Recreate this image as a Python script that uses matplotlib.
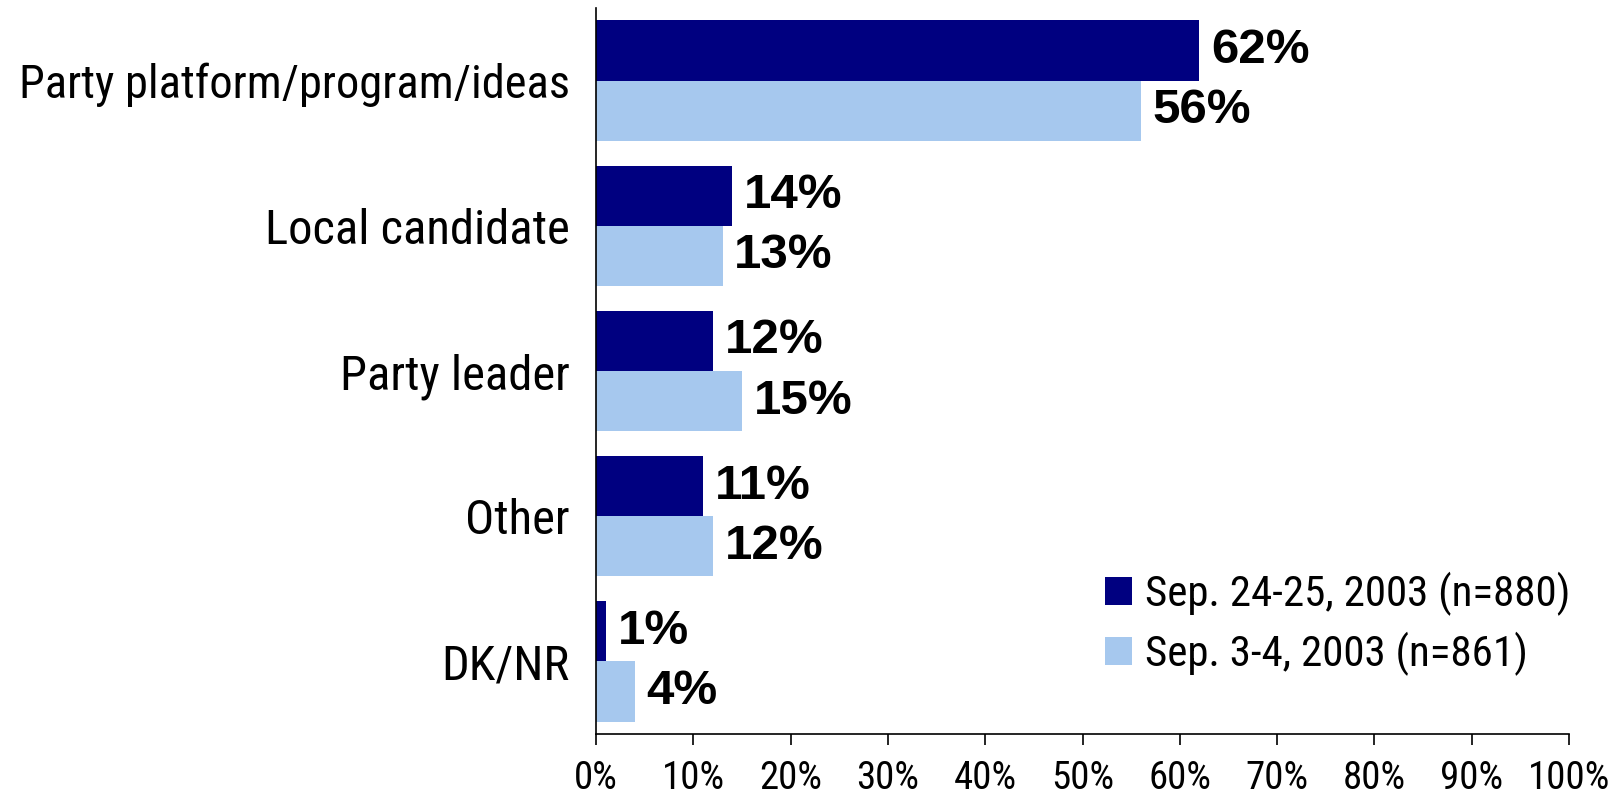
import matplotlib
matplotlib.use('Agg')
import matplotlib.pyplot as plt
from matplotlib import font_manager
import numpy as np

categories = ['Party platform/program/ideas', 'Local candidate', 'Party leader', 'Other', 'DK/NR']
sep24 = [62, 14, 12, 11, 1]
sep3 = [56, 13, 15, 12, 4]
series_names = ['Sep. 24-25, 2003 (n=880)', 'Sep. 3-4, 2003 (n=861)']
xticks = list(range(0, 101, 10))

# narrow face similar to Arial Narrow
regular_cond = [f for f in font_manager.fontManager.ttflist
                if f.name == 'Roboto Condensed' and f.style == 'normal']
narrow = 'Roboto Condensed' if regular_cond else 'DejaVu Sans'

dark = '#000080'
light = '#A6C8EE'

fig = plt.figure(figsize=(16.17, 7.97), dpi=100)
ax = fig.add_axes([0.3686, 0.079, 0.6017, 0.911])

y = np.arange(len(categories))
h = 0.415
b1 = ax.barh(y - h / 2, sep24, height=h, color=dark, label=series_names[0])
b2 = ax.barh(y + h / 2, sep3, height=h, color=light, label=series_names[1])

for bars, vals in ((b1, sep24), (b2, sep3)):
    for rect, v in zip(bars, vals):
        ax.annotate(f'{v}%', (v, rect.get_y() + rect.get_height() / 2),
                    xytext=(8.5, 0), textcoords='offset points',
                    va='center', ha='left', fontsize=35.5, fontweight='bold',
                    family='Liberation Sans')

ax.set_xlim(0, 100)
ax.set_ylim(len(categories) - 0.5, -0.5)
ax.set_xticks(xticks)
ax.set_xticklabels([f'{t}%' for t in xticks], family=narrow, fontsize=28)
ax.set_yticks(y)
ax.set_yticklabels(categories, family=narrow, fontsize=35)
# longest label is a bit wider in this face, shrink it so it fits
ax.get_yticklabels()[0].set_fontsize(33.5)
ax.tick_params(axis='y', length=0, pad=19)
ax.tick_params(axis='x', length=8, width=1.2, direction='out', pad=11)
for s in ('top', 'right'):
    ax.spines[s].set_visible(False)
ax.spines['left'].set_linewidth(1.2)
ax.spines['bottom'].set_linewidth(1.2)

fig.legend(loc='upper left', bbox_to_anchor=(0.670, 0.309), frameon=False,
           borderpad=0, prop={'family': narrow, 'size': 31}, handlelength=0.62,
           handleheight=0.62, handletextpad=0.3, labelspacing=0.37)

plt.savefig('out.png', dpi=100)
